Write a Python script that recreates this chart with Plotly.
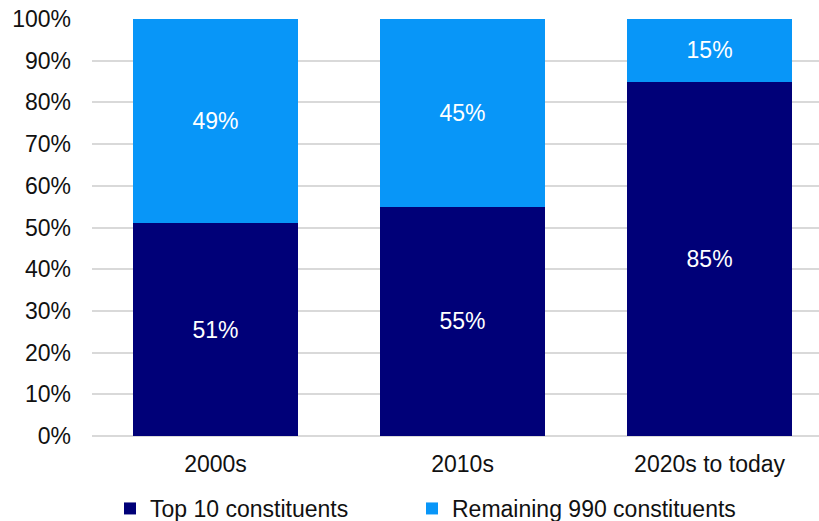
import plotly.graph_objects as go

decades = ["2000s", "2010s", "2020s to today"]
top10_share = [51, 55, 85]
remaining_share = [49, 45, 15]
y_ticks = [0, 10, 20, 30, 40, 50, 60, 70, 80, 90, 100]

navy = "#000078"
sky = "#0896F8"
font_family = "Liberation Sans, Arial, sans-serif"
label_font = dict(color="white", size=23, family=font_family)

fig = go.Figure()
fig.add_trace(go.Bar(
    name="Top 10 constituents", x=decades, y=top10_share,
    marker=dict(color=navy, line=dict(width=0)),
    text=[f"{v}%" for v in top10_share], textposition="inside",
    insidetextanchor="middle", textangle=0, textfont=label_font,
    legend="legend",
))
fig.add_trace(go.Bar(
    name="Remaining 990 constituents", x=decades, y=remaining_share,
    marker=dict(color=sky, line=dict(width=0)),
    text=[f"{v}%" for v in remaining_share], textposition="inside",
    insidetextanchor="middle", textangle=0, textfont=label_font,
    legend="legend2",
))

legend_style = dict(
    orientation="h", xref="container", yref="container",
    y=1 - 487 / 521, xanchor="left", yanchor="top",
    font=dict(size=23, color="#111111"), itemclick=False,
    bgcolor="rgba(0,0,0,0)",
)

fig.update_layout(
    width=819, height=521,
    barmode="stack", bargap=0.332,
    margin=dict(l=92, r=0, t=19, b=85, autoexpand=False),
    paper_bgcolor="white", plot_bgcolor="white",
    font=dict(family=font_family, size=23, color="#111111"),
    uniformtext=dict(mode=False),
    showlegend=True,
    legend=dict(x=110 / 819, **legend_style),
    legend2=dict(x=412 / 819, **legend_style),
    xaxis=dict(
        range=[-0.5, 2.443], showgrid=False, showline=False,
        ticks="", tickfont=dict(size=23), ticklabelstandoff=12,
    ),
    yaxis=dict(
        range=[0, 100], tickvals=y_ticks,
        ticktext=[f"{v}%" for v in y_ticks],
        showgrid=True, gridcolor="#d9d9d9", gridwidth=1.5,
        zeroline=True, zerolinecolor="#d9d9d9", zerolinewidth=1.5,
        showline=False, ticks="", ticklabelstandoff=20,
        tickfont=dict(size=23),
    ),
)

fig.write_html("out.html")
